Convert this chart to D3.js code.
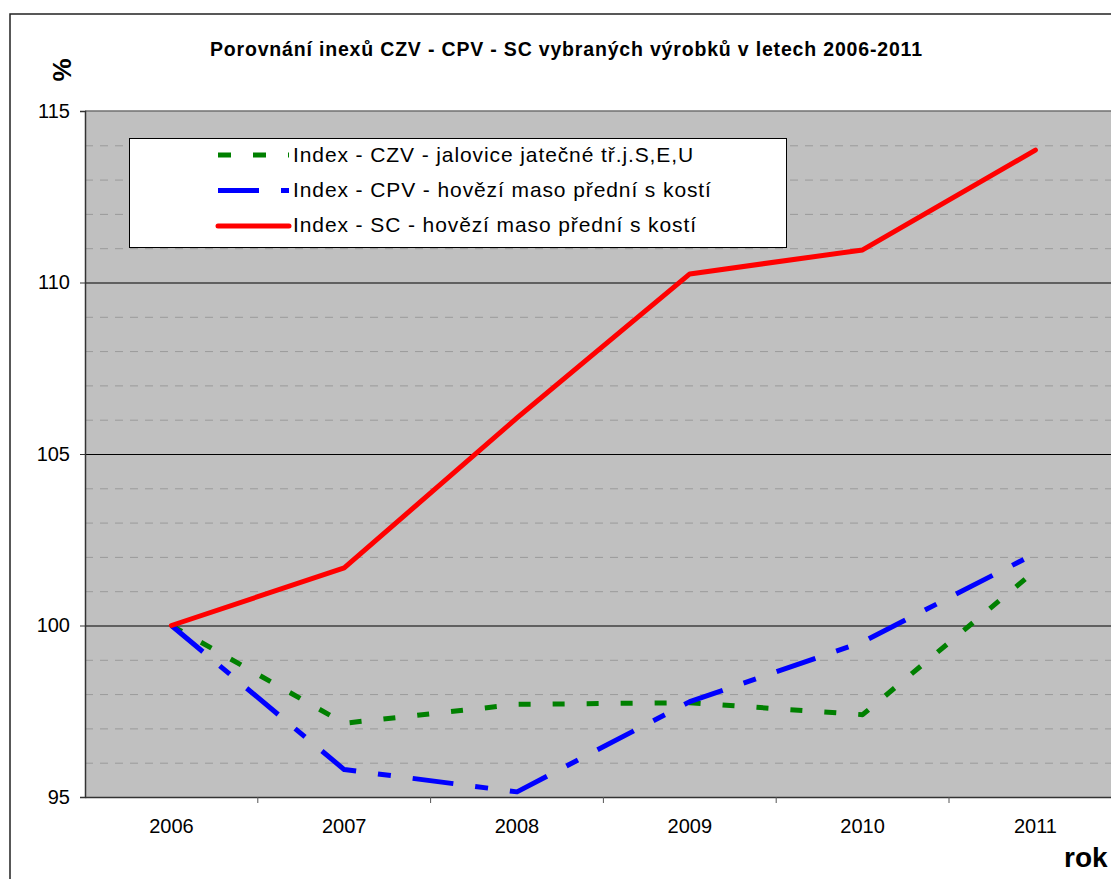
<!DOCTYPE html>
<html>
<head>
<meta charset="utf-8">
<script src="https://cdn.jsdelivr.net/npm/d3@7"></script>
<style>
  body { margin: 0; background: #fff; }
  svg { display: block; font-family: "Liberation Sans", Arial, sans-serif; }
</style>
</head>
<body>
<div id="chart"></div>
<script>
// chart data
const years = ['2006', '2007', '2008', '2009', '2010', '2011']
const czv = [100, 97.15, 97.7, 97.75, 97.4, 101.6]
const cpv = [100, 95.8, 95.15, 97.78, 99.52, 102.1]
const sc = [100, 101.68, 106.05, 110.25, 110.95, 113.86]
const yTicks = [95, 100, 105, 110, 115]
const minorTicks = [96, 97, 98, 99, 101, 102, 103, 104, 106, 107, 108, 109, 111, 112, 113, 114]
const seriesNames = [
  'Index - CZV - jalovice jatečné tř.j.S,E,U',
  'Index - CPV - hovězí maso přední s kostí',
  'Index - SC - hovězí maso přední s kostí'
]

const width = 1111, height = 879
const plot = { left: 85, top: 111, right: 85 + 6 * 172.8, bottom: 797 }

const series = [
  { name: seriesNames[0], values: czv, color: '#008000', dash: '12,22', legendDash: '13,22' },
  { name: seriesNames[1], values: cpv, color: '#0000ff', dash: '41,22,13,22', legendDash: '41,22,8,22' },
  { name: seriesNames[2], values: sc, color: '#ff0000', dash: null, legendDash: null }
]

const svg = d3.select('#chart').append('svg')
  .attr('width', width)
  .attr('height', height)

// outer chart border
svg.append('rect')
  .attr('x', 10).attr('y', 14)
  .attr('width', width + 20).attr('height', height + 20)
  .attr('fill', '#fff')
  .attr('stroke', '#222').attr('stroke-width', 1.5)

const xScale = d3.scaleBand()
  .domain(years)
  .range([plot.left, plot.right])
  .padding(0)
const yScale = d3.scaleLinear()
  .domain([95, 115])
  .range([plot.bottom, plot.top])
const xPos = d => xScale(d) + xScale.bandwidth() / 2

// plot background
svg.append('rect')
  .attr('x', plot.left).attr('y', plot.top)
  .attr('width', plot.right - plot.left).attr('height', plot.bottom - plot.top)
  .attr('fill', '#c0c0c0')

// minor grid (dashed)
svg.append('g')
  .selectAll('line')
  .data(minorTicks)
  .join('line')
  .attr('x1', plot.left).attr('x2', plot.right)
  .attr('y1', d => yScale(d) + 0.5).attr('y2', d => yScale(d) + 0.5)
  .attr('stroke', '#9a9a9a').attr('stroke-width', 1)
  .attr('stroke-dasharray', '8,7')

// major grid
svg.append('g')
  .selectAll('line')
  .data([100, 105, 110])
  .join('line')
  .attr('x1', plot.left).attr('x2', plot.right)
  .attr('y1', d => yScale(d) + 0.5).attr('y2', d => yScale(d) + 0.5)
  .attr('stroke', '#000').attr('stroke-width', 1)

// top border of plot area
svg.append('line')
  .attr('x1', plot.left).attr('x2', plot.right)
  .attr('y1', plot.top).attr('y2', plot.top)
  .attr('stroke', '#707070').attr('stroke-width', 1.5)

// y axis
const yAxis = d3.axisLeft(yScale).tickValues(yTicks).tickSize(5).tickPadding(10)
const gy = svg.append('g')
  .attr('transform', `translate(${plot.left},0)`)
  .call(yAxis)
gy.select('.domain').attr('stroke', '#333').attr('stroke-width', 1.5)
gy.selectAll('.tick line').attr('stroke', '#333')
gy.selectAll('.tick text')
  .attr('font-size', 20).attr('fill', '#000')
  .attr('font-family', '"Liberation Sans", Arial, sans-serif')

// x axis
const xAxis = d3.axisBottom(xScale).tickSize(0).tickPadding(22)
const gx = svg.append('g')
  .attr('transform', `translate(0,${plot.bottom})`)
  .call(xAxis)
gx.select('.domain').attr('stroke', '#333').attr('stroke-width', 1.5)
gx.selectAll('.tick text')
  .attr('font-size', 20).attr('fill', '#000')
  .attr('font-family', '"Liberation Sans", Arial, sans-serif')

// x ticks at category boundaries
svg.append('g')
  .selectAll('line')
  .data(years.slice(1))
  .join('line')
  .attr('x1', d => xScale(d)).attr('x2', d => xScale(d))
  .attr('y1', plot.bottom).attr('y2', plot.bottom + 6)
  .attr('stroke', '#555').attr('stroke-width', 1)

// series lines
const line = d3.line()
  .x((d, i) => xPos(years[i]))
  .y(d => yScale(d))

series.forEach(s => {
  svg.append('path')
    .datum(s.values)
    .attr('d', line)
    .attr('fill', 'none')
    .attr('stroke', s.color)
    .attr('stroke-width', 5)
    .attr('stroke-linejoin', 'round')
    .attr('stroke-linecap', s.dash ? 'butt' : 'round')
    .attr('stroke-dasharray', s.dash)
})

// legend
const legend = svg.append('g')
legend.append('rect')
  .attr('x', 129.5).attr('y', 138.5)
  .attr('width', 657).attr('height', 109)
  .attr('fill', '#fff')
  .attr('stroke', '#000').attr('stroke-width', 1)

series.forEach((s, i) => {
  const cy = 155 + i * 35.5
  legend.append('line')
    .attr('x1', 218).attr('x2', 289)
    .attr('y1', cy).attr('y2', cy)
    .attr('stroke', s.color)
    .attr('stroke-width', 5)
    .attr('stroke-linecap', s.legendDash ? 'butt' : 'round')
    .attr('stroke-dasharray', s.legendDash)
  legend.append('text')
    .attr('x', 293).attr('y', 162 + i * 35)
    .attr('font-size', 21)
    .attr('letter-spacing', 0.9)
    .text(s.name)
})

// title
svg.append('text')
  .attr('x', 210).attr('y', 56)
  .attr('font-size', 19.5).attr('font-weight', 'bold')
  .attr('textLength', 712).attr('lengthAdjust', 'spacing')
  .text('Porovnání inexů CZV - CPV - SC vybraných výrobků v letech 2006-2011')

// axis titles
svg.append('text')
  .attr('transform', 'translate(71,70) rotate(-90)')
  .attr('text-anchor', 'middle')
  .attr('font-size', 26).attr('font-weight', 'bold')
  .text('%')

svg.append('text')
  .attr('x', 1064).attr('y', 867)
  .attr('font-size', 28).attr('font-weight', 'bold')
  .text('rok')
</script>
</body>
</html>
